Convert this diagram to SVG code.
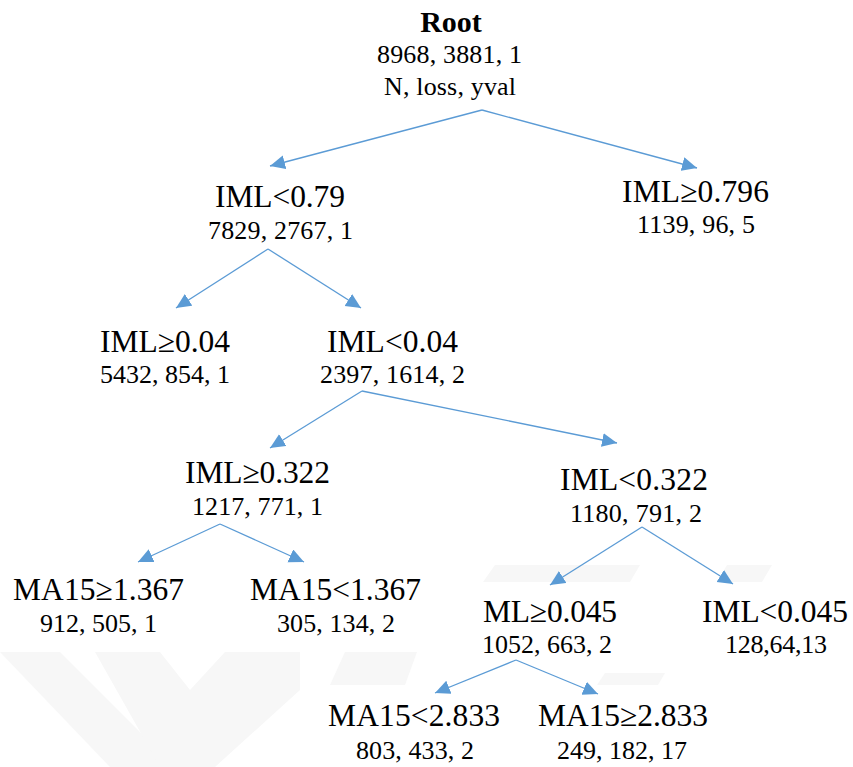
<svg xmlns="http://www.w3.org/2000/svg" width="853" height="767" viewBox="0 0 853 767">
<defs>
<style>
text{fill:#000;text-anchor:middle}
.lbl{font-size:31.5px}
.num{font-size:26px}
.root{font-size:30px;font-weight:bold}
.edge{stroke:#5B9BD5;stroke-width:1.3;fill:none;marker-end:url(#ah)}
.wm{fill:#f7f7f7}
</style>
<marker id="ah" markerUnits="userSpaceOnUse" markerWidth="16" markerHeight="15" refX="15" refY="7" orient="auto" viewBox="0 0 16 15">
<path d="M0,0 L15,7 L0,14 Z" fill="#5B9BD5"/>
</marker>
</defs>
<rect width="853" height="767" fill="#fff"/>
<g id="watermark">
<polygon class="wm" points="0,652 60,652 175,767 110,767"/>
<polygon class="wm" points="95,652 160,652 190,690 225,652 300,652 300,690 215,767 160,767"/>
<polygon class="wm" points="495,565 640,565 630,582 483,582"/>
<polygon class="wm" points="727,565 772,565 762,582 717,582"/>
<polygon class="wm" points="345,652 417,652 405,685 330,685"/>
<polygon class="wm" points="605,673 665,673 658,685 597,685"/>
</g>
<g id="connectors">
<line class="edge" x1="482" y1="110" x2="270" y2="166"/>
<line class="edge" x1="482" y1="110" x2="697" y2="168"/>
<line class="edge" x1="268" y1="249" x2="176" y2="308"/>
<line class="edge" x1="268" y1="249" x2="361" y2="308"/>
<line class="edge" x1="362" y1="391" x2="270" y2="448"/>
<line class="edge" x1="362" y1="391" x2="617" y2="443"/>
<line class="edge" x1="220" y1="524" x2="138" y2="562"/>
<line class="edge" x1="220" y1="524" x2="304" y2="562"/>
<line class="edge" x1="642" y1="527" x2="550" y2="585"/>
<line class="edge" x1="642" y1="527" x2="733" y2="584"/>
<line class="edge" x1="516" y1="660" x2="435" y2="693"/>
<line class="edge" x1="516" y1="660" x2="598" y2="694"/>
</g>
<g id="nodes" font-family="Liberation Serif">
<g id="root">
<text class="root" x="451" y="32">Root</text>
<text class="num" x="449.5" y="63" textLength="145">8968, 3881, 1</text>
<text class="num" x="450" y="95" textLength="132">N, loss, yval</text>
</g>
<g id="n_iml_lt_079">
<text class="lbl" x="280" y="207" textLength="130">IML&lt;0.79</text>
<text class="num" x="280.5" y="239" textLength="145">7829, 2767, 1</text>
</g>
<g id="n_iml_ge_0796">
<text class="lbl" x="695.5" y="202" textLength="147">IML≥0.796</text>
<text class="num" x="696" y="233" textLength="118">1139, 96, 5</text>
</g>
<g id="n_iml_ge_004">
<text class="lbl" x="165" y="352" textLength="130">IML≥0.04</text>
<text class="num" x="165" y="383" textLength="130">5432, 854, 1</text>
</g>
<g id="n_iml_lt_004">
<text class="lbl" x="392.5" y="352" textLength="131">IML&lt;0.04</text>
<text class="num" x="392.5" y="383" textLength="145">2397, 1614, 2</text>
</g>
<g id="n_iml_ge_0322">
<text class="lbl" x="257.5" y="483" textLength="145">IML≥0.322</text>
<text class="num" x="257.5" y="515" textLength="131">1217, 771, 1</text>
</g>
<g id="n_iml_lt_0322">
<text class="lbl" x="634" y="490" textLength="148">IML&lt;0.322</text>
<text class="num" x="636" y="522" textLength="132">1180, 791, 2</text>
</g>
<g id="n_ma15_ge_1367">
<text class="lbl" x="98.5" y="600" textLength="171">MA15≥1.367</text>
<text class="num" x="98.5" y="632" textLength="117">912, 505, 1</text>
</g>
<g id="n_ma15_lt_1367">
<text class="lbl" x="335.5" y="600" textLength="171">MA15&lt;1.367</text>
<text class="num" x="336" y="632" textLength="118">305, 134, 2</text>
</g>
<g id="n_ml_ge_0045">
<text class="lbl" x="550" y="622" textLength="134">ML≥0.045</text>
<text class="num" x="547" y="653" textLength="130">1052, 663, 2</text>
</g>
<g id="n_iml_lt_0045">
<text class="lbl" x="775" y="622" textLength="146">IML&lt;0.045</text>
<text class="num" x="776" y="653" textLength="102">128,64,13</text>
</g>
<g id="n_ma15_lt_2833">
<text class="lbl" x="414" y="726" textLength="172">MA15&lt;2.833</text>
<text class="num" x="415" y="759" textLength="118">803, 433, 2</text>
</g>
<g id="n_ma15_ge_2833">
<text class="lbl" x="623" y="726" textLength="170">MA15≥2.833</text>
<text class="num" x="622" y="759" textLength="130">249, 182, 17</text>
</g>
</g>
</svg>
